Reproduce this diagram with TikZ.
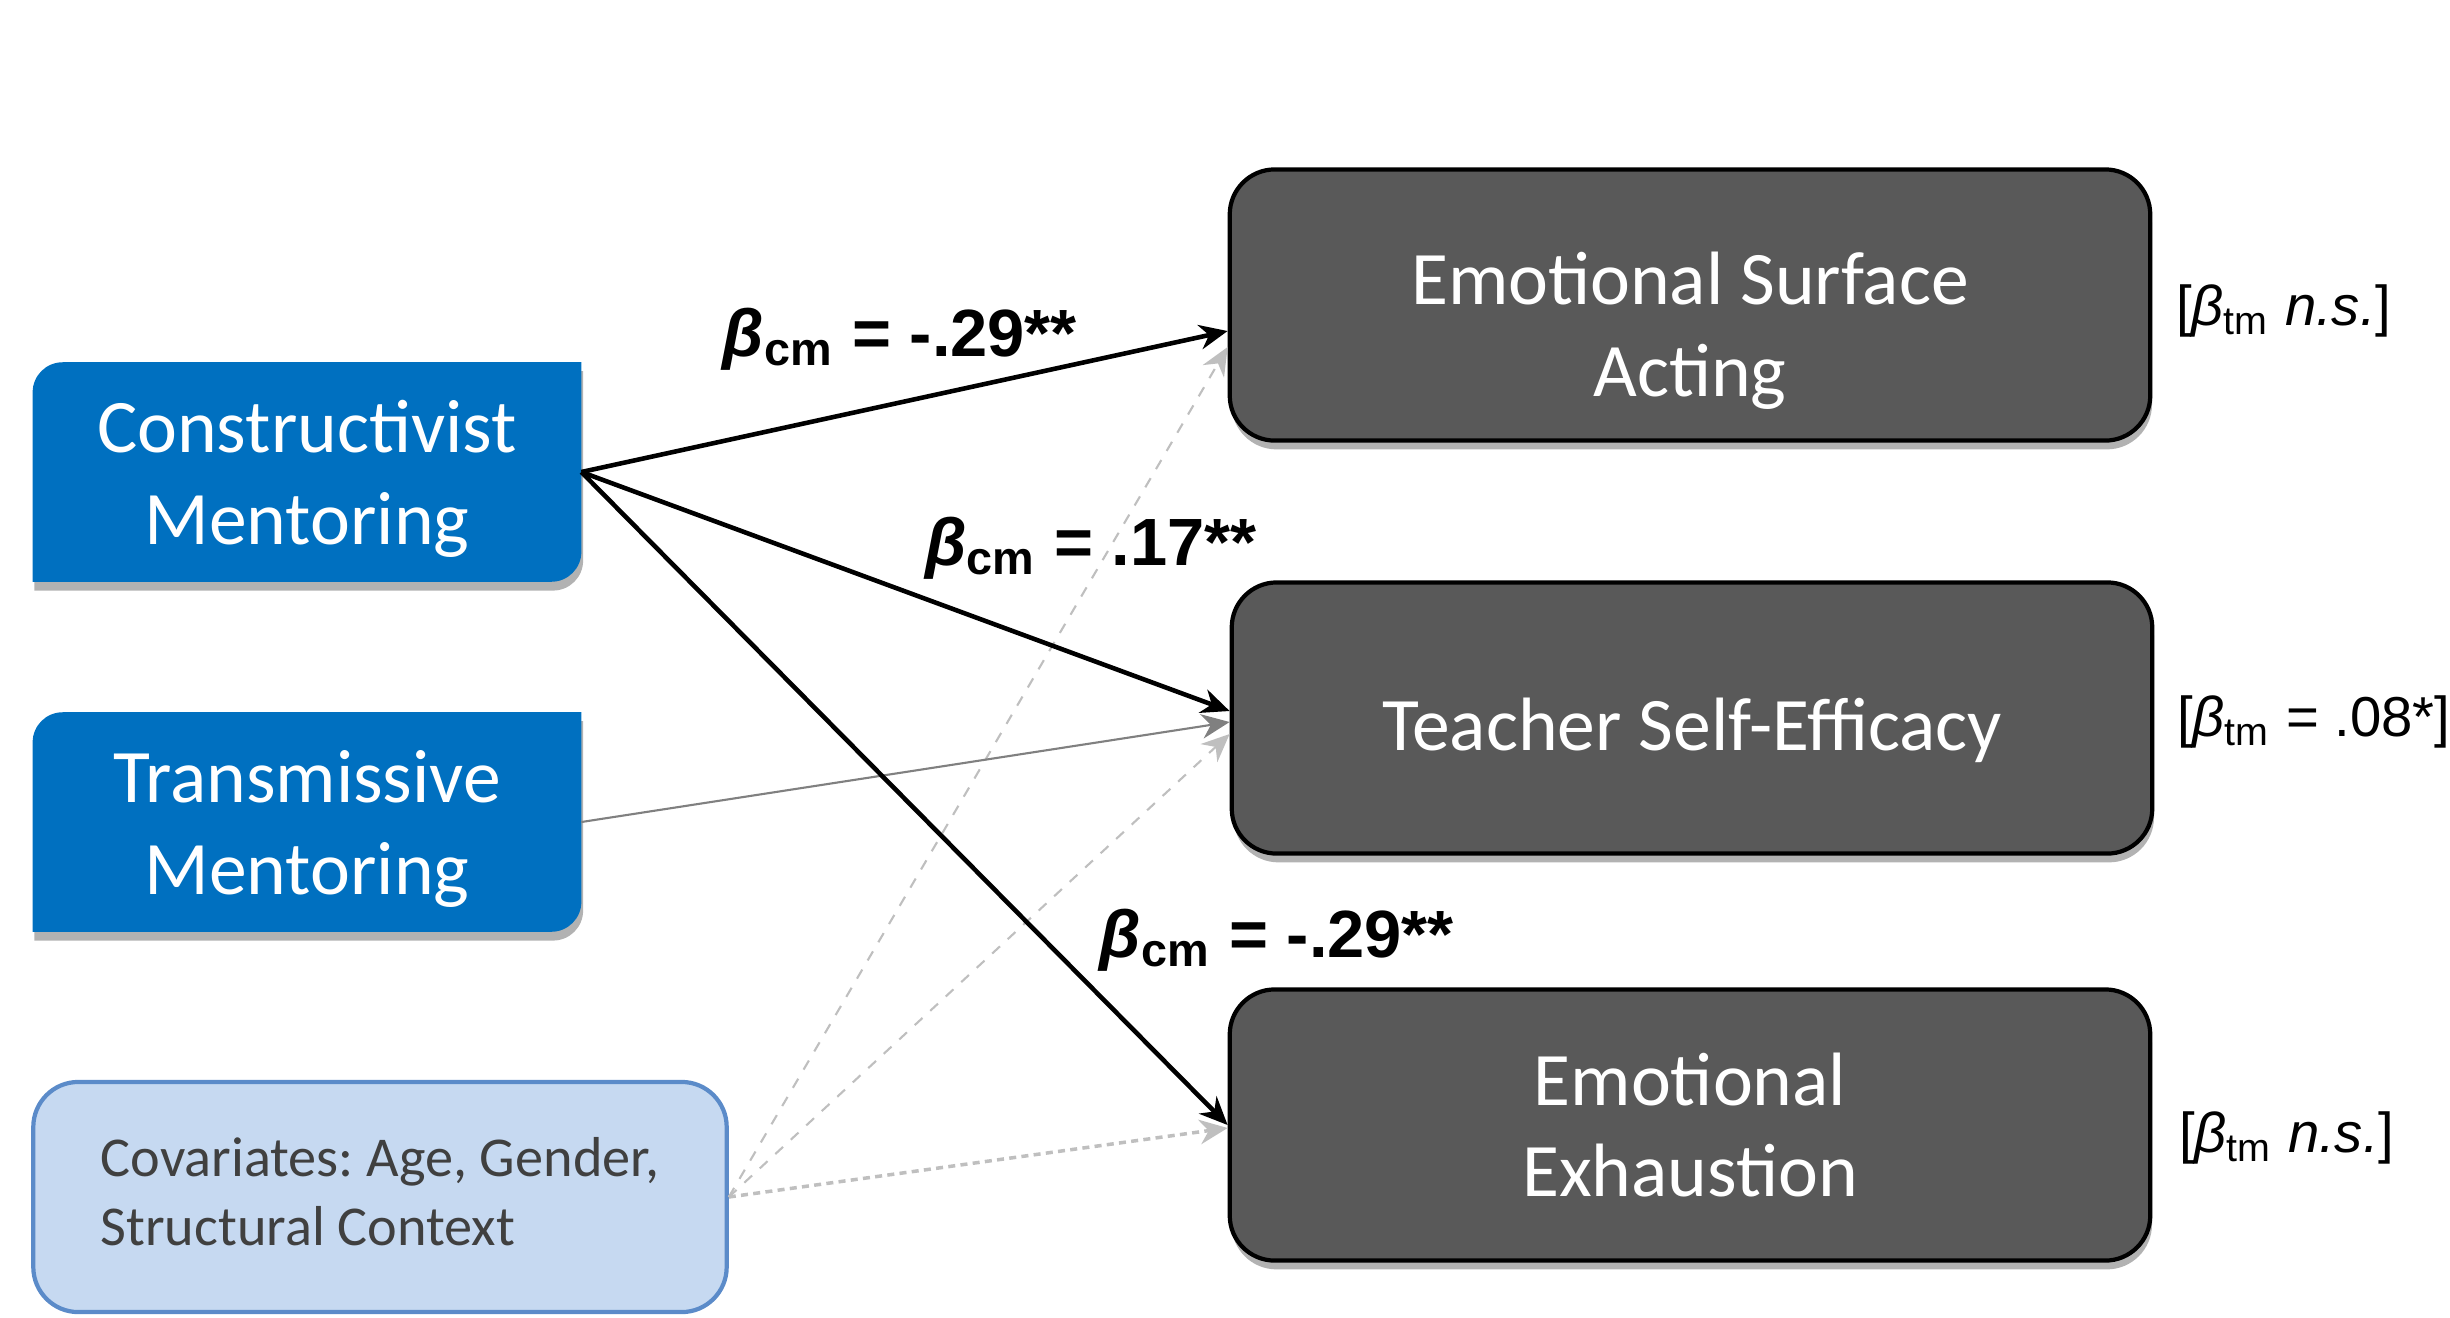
\documentclass[tikz,border=0pt]{standalone}
\usepackage{fontspec}
\setmainfont{Carlito}
\newfontfamily\arialfont{Liberation Sans}
\usetikzlibrary{arrows.meta, positioning, shadows, backgrounds}
\definecolor{mentorblue}{HTML}{0070C0}
\definecolor{outcomegray}{HTML}{595959}
\definecolor{covfill}{HTML}{C6D9F1}
\definecolor{covline}{HTML}{5B8BC9}
\definecolor{covtext}{HTML}{404040}
\definecolor{pathgray}{HTML}{BFBFBF}
\frenchspacing
\newcommand{\lowertext}[2]{\raisebox{#1}[\height][\depth]{#2}}
\tikzset{
    > = {Stealth[length=8pt, width=7pt]},
    boxshadow/.style = {drop shadow = {shadow xshift=0.5pt, shadow yshift=-2.5pt, opacity=0.3, fill=black}},
    mentor/.style = {text=white, align=center, minimum width=5.47cm, minimum height=2.18cm,
        font=\fontsize{21.5}{26}\selectfont},
    outcome/.style = {draw=black, line width=1.2pt, fill=outcomegray, rounded corners=0.45cm,
        text=white, align=center, minimum width=9.2cm, minimum height=2.71cm,
        font=\fontsize{21.5}{26}\selectfont, boxshadow},
    covbox/.style = {draw=covline, line width=1.2pt, fill=covfill, rounded corners=0.45cm,
        text=covtext, align=left, minimum width=6.93cm, minimum height=2.3cm,
        font=\fontsize{16}{19.6}\selectfont},
    coef/.style = {font=\arialfont\bfseries\fontsize{19}{23}\selectfont, inner sep=0pt},
    tmnote/.style = {font=\arialfont\fontsize{16}{19}\selectfont, inner sep=0pt},
    strong/.style = {->, line width=1.3pt},
    weak/.style = {->, gray, line width=0.6pt},
    control/.style = {->, pathgray, dashed, line width=0.6pt}
}

\begin{document}
\frenchspacing
\begin{tikzpicture}[x=0.01cm, y=0.01cm]
    \useasboundingbox (0,0) rectangle (2450,-1317);

    % predictors
    \node[mentor] (cm) at (307,-472) {\lowertext{-0.08cm}{\begin{tabular}{@{}c@{}}Constructivist\\Mentoring\end{tabular}}};
    \node[mentor] (tm) at (307,-822) {\lowertext{-0.08cm}{\begin{tabular}{@{}c@{}}Transmissive\\Mentoring\end{tabular}}};
    \node[covbox] (cov) at (380,-1197) {\begin{tabular}{@{}l@{}}Covariates: Age, Gender,\\Structural Context\end{tabular}};

    % outcomes
    \node[outcome] (esa) at (1690,-305) {\lowertext{-0.27cm}{\begin{tabular}{@{}c@{}}Emotional Surface\\Acting\end{tabular}}};
    \node[outcome] (tse) at (1692,-718) {\lowertext{-0.12cm}{Teacher Self-Efficacy}};
    \node[outcome] (ee) at (1690,-1125) {Emotional\\Exhaustion};

    \begin{scope}[on background layer]
        \foreach \n in {cm, tm}
            \fill[mentorblue, boxshadow] (\n.north east) -- ([yshift=0.3cm]\n.south east)
                arc[start angle=0, end angle=-90, radius=0.3cm] -- (\n.south west)
                -- ([yshift=-0.3cm]\n.north west)
                arc[start angle=180, end angle=90, radius=0.3cm] -- cycle;
    \end{scope}

    \draw[control] (cov.east) -- ([yshift=-0.42cm]esa.west);
    \draw[control] (cov.east) -- ([yshift=-0.16cm]tse.west);
    \draw[control, dash pattern=on 2pt off 1.5pt, line width=1pt] (cov.east) -- ([yshift=-0.03cm]ee.west);
    \draw[weak] (tm.east) -- ([yshift=-0.04cm]tse.west);

    \draw[strong] (cm.east) -- ([yshift=-0.26cm]esa.west);
    \draw[strong] (cm.east) -- ([yshift=0.07cm]tse.west);
    \draw[strong] (cm.east) -- (ee.west);

    % coefficients
    \node[coef] (b1) at (900,-339) {\itshape β\upshape\textsubscript{cm} = -.29**};
    \node[coef] (b2) at (1091,-548) {\itshape β\upshape\textsubscript{cm} = .17**};
    \node[coef] (b3) at (1277,-940) {\itshape β\upshape\textsubscript{cm} = -.29**};

    \node[tmnote, right=0.23cm of esa, yshift=-0.06cm] (n1) {[{\itshape β}\textsubscript{tm} {\itshape n.s.}]};
    \node[tmnote, right=0.22cm of tse, yshift=-0.04cm] (n2) {[{\itshape β}\textsubscript{tm} = .08*]};
    \node[tmnote, right=0.26cm of ee, yshift=-0.13cm] (n3) {[{\itshape β}\textsubscript{tm} {\itshape n.s.}]};
\end{tikzpicture}
\end{document}
